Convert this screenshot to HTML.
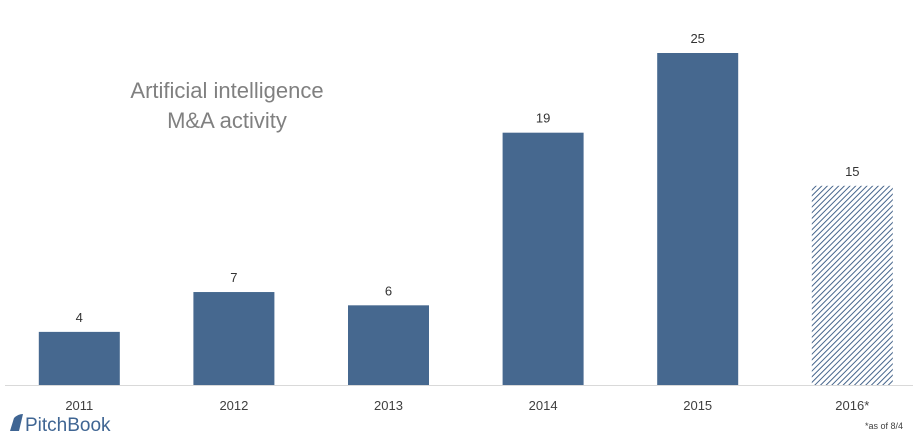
<!DOCTYPE html>
<html><head><meta charset="utf-8"><style>
html,body{margin:0;padding:0;background:#fff;}
body{width:915px;height:439px;overflow:hidden;font-family:"Liberation Sans",sans-serif;}
</style></head><body>
<svg id="chart" width="915" height="439" xmlns="http://www.w3.org/2000/svg">
<defs>
<pattern id="hatch" patternUnits="userSpaceOnUse" width="4" height="4" patternTransform="rotate(45)">
<rect width="4" height="4" fill="#fff"/>
<line x1="0" y1="0" x2="0" y2="4" stroke="#46658c" stroke-width="2"/>
</pattern>
</defs>
<text x="227" y="98" text-anchor="middle" font-size="22" fill="#808080">Artificial intelligence</text>
<text x="227" y="128" text-anchor="middle" font-size="22" fill="#808080">M&amp;A activity</text>
<line x1="5" y1="385.5" x2="913" y2="385.5" stroke="#d9d9d9" stroke-width="1"/>
<g id="bars"></g>
<text x="903" y="429" text-anchor="end" font-size="9" fill="#404040">*as of 8/4</text>
<g>
<path d="M10 431 L14 418 Q18 414 23 414 L19 431 Z" fill="#3f6593"/>
<text x="25" y="431" font-size="19" fill="#3f6593">PitchBook</text>
</g>
</svg>
<script>
const categories = ["2011","2012","2013","2014","2015","2016*"];
const values = [4,7,6,19,25,15];
const hatched = [false,false,false,false,false,true];
const svg = document.getElementById('bars');
const NS = "http://www.w3.org/2000/svg";
const baseY = 385, pxPerUnit = 13.28, x0 = 2, step = 154.6, barW = 81;
function xCenter(i){ return x0 + step*(i+0.5); }
function yOf(v){ return baseY - v*pxPerUnit; }
categories.forEach((c,i)=>{
  const v = values[i];
  const r = document.createElementNS(NS,'rect');
  
  
  r.setAttribute('x', xCenter(i)-barW/2);
  r.setAttribute('y', yOf(v));
  r.setAttribute('width', barW);
  r.setAttribute('height', baseY - yOf(v));
  r.setAttribute('fill', hatched[i] ? 'url(#hatch)' : '#46688f');
  svg.appendChild(r);
  const t = document.createElementNS(NS,'text');
  
  
  t.setAttribute('x', xCenter(i));
  t.setAttribute('y', yOf(v) - 10);
  t.setAttribute('text-anchor','middle');
  t.setAttribute('font-size','13');
  t.setAttribute('fill','#333');
  t.textContent = v;
  svg.appendChild(t);
  const l = document.createElementNS(NS,'text');
  
  
  l.setAttribute('x', xCenter(i));
  l.setAttribute('y', 410);
  l.setAttribute('text-anchor','middle');
  l.setAttribute('font-size','13');
  l.setAttribute('fill','#404040');
  l.textContent = c;
  svg.appendChild(l);
});
</script>
</body></html>
